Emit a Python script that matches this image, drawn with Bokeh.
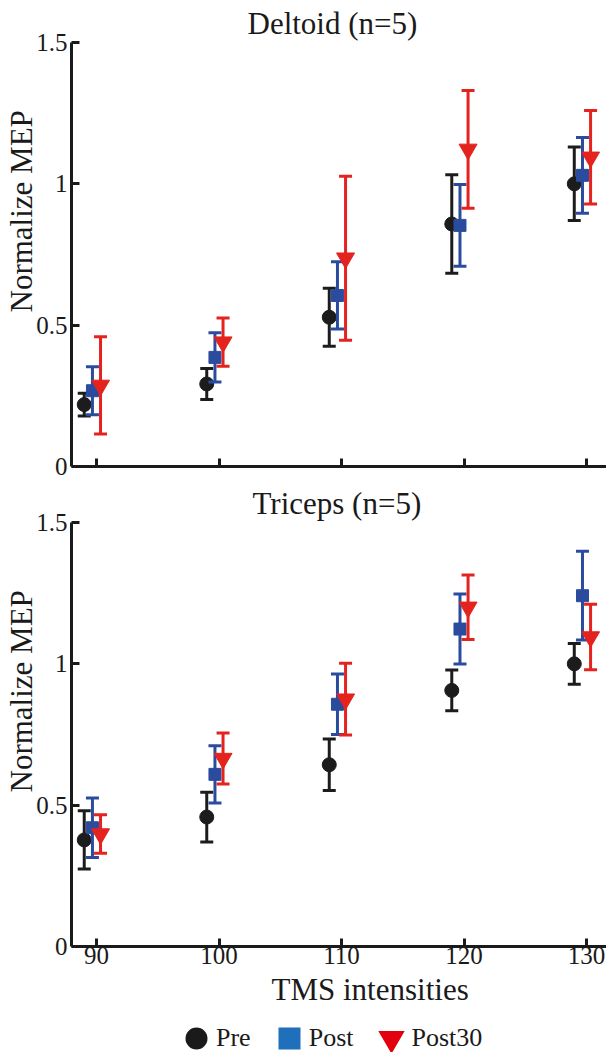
import numpy as np
from bokeh.plotting import figure
from bokeh.layouts import column
from bokeh.models import ColumnDataSource, Range1d, FixedTicker, Title, Legend, LegendItem
from bokeh.embed import file_html
from bokeh.resources import INLINE

# ---------------- data ----------------
intensities = [90, 100, 110, 120, 130]
x_ticks = [90, 100, 110, 120, 130]
x_tick_labels = ["90", "100", "110", "120", "130"]
y_ticks = [0, 0.5, 1, 1.5]
y_tick_labels = ["0", "0.5", "1", "1.5"]
conditions = ["Pre", "Post", "Post30"]

deltoid_pre = [0.219, 0.292, 0.528, 0.858, 1.000]
deltoid_pre_err = [0.040, 0.055, 0.103, 0.174, 0.130]
deltoid_post = [0.268, 0.386, 0.605, 0.853, 1.030]
deltoid_post_err = [0.085, 0.087, 0.119, 0.145, 0.134]
deltoid_post30 = [0.287, 0.440, 0.737, 1.122, 1.094]
deltoid_post30_err = [0.172, 0.085, 0.290, 0.208, 0.165]

triceps_pre = [0.377, 0.458, 0.643, 0.906, 1.000]
triceps_pre_err = [0.103, 0.088, 0.091, 0.072, 0.072]
triceps_post = [0.420, 0.609, 0.857, 1.123, 1.241]
triceps_post_err = [0.105, 0.101, 0.107, 0.124, 0.157]
triceps_post30 = [0.398, 0.665, 0.875, 1.200, 1.095]
triceps_post30_err = [0.068, 0.090, 0.127, 0.114, 0.116]

# ---------------- style ----------------
FONT = "Liberation Serif"
INK = "#1a1a1a"
plot_colors = {"Pre": "#1c1c1c", "Post": "#2b4c9e", "Post30": "#e4231e"}
legend_colors = {"Pre": "#1a1a1a", "Post": "#1f6fbb", "Post30": "#e2000f"}
markers = {"Pre": "circle", "Post": "square", "Post30": "inverted_triangle"}
marker_sizes = {"Pre": 14, "Post": 12, "Post30": 18}
dodge = {"Pre": -1.0, "Post": -0.33, "Post30": 0.33}

X0, X1 = 87.96, 131.63
Y0, Y1 = 0.0, 1.5


def make_panel(title, title_offset, series, height, bottom_border, show_x_labels):
    p = figure(width=606, height=height, x_range=Range1d(X0, X1), y_range=Range1d(Y0, Y1),
               output_backend="svg", toolbar_location=None,
               min_border_left=71, min_border_right=0,
               min_border_top=42, min_border_bottom=bottom_border)
    p.outline_line_color = None
    p.grid.visible = False
    p.background_fill_color = "white"
    p.border_fill_color = "white"

    for cond in conditions:
        m = np.array(series[cond][0])
        e = np.array(series[cond][1])
        x = np.array(intensities, dtype=float) + dodge[cond]
        src = ColumnDataSource(dict(x=x, y=m, lo=m - e, hi=m + e))
        c = plot_colors[cond]
        p.segment(x0="x", y0="lo", x1="x", y1="hi", source=src, line_color=c, line_width=3)
        p.scatter(x="x", y="lo", marker="dash", size=13, line_color=c, line_width=3, source=src)
        p.scatter(x="x", y="hi", marker="dash", size=13, line_color=c, line_width=3, source=src)
        p.scatter(x="x", y="y", marker=markers[cond], size=marker_sizes[cond],
                  fill_color=c, line_color=c, line_width=1, source=src)

    for ax in (p.xaxis[0], p.yaxis[0]):
        ax.axis_line_width = 3
        ax.axis_line_color = INK
        ax.major_tick_line_width = 3
        ax.major_tick_line_color = INK
        ax.major_tick_in = 8
        ax.major_tick_out = 0
        ax.minor_tick_line_color = None
        ax.major_label_text_font = FONT
        ax.major_label_text_font_size = "25px"
        ax.major_label_text_color = INK

    p.xaxis.ticker = FixedTicker(ticks=x_ticks)
    p.yaxis.ticker = FixedTicker(ticks=y_ticks)
    p.yaxis.major_label_overrides = dict(zip(y_ticks, y_tick_labels))
    p.yaxis.major_label_standoff = 4
    p.xaxis.major_label_standoff = 0
    if show_x_labels:
        p.xaxis.major_label_overrides = dict(zip(x_ticks, x_tick_labels))
    else:
        p.xaxis.major_label_overrides = dict(zip(x_ticks, [""] * len(x_ticks)))

    # panel title (above)
    p.title.text = title
    p.title.align = "left"
    p.title.offset = title_offset
    p.title.vertical_align = "bottom"
    p.title.standoff = 4
    p.title.text_font = FONT
    p.title.text_font_style = "normal"
    p.title.text_font_size = "31px"
    p.title.text_color = INK

    # y axis label (left side, shifted up as in the reference)
    p.add_layout(Title(text="Normalize MEP", align="left", offset=154, vertical_align="bottom",
                       standoff=-11, text_font=FONT, text_font_style="normal",
                       text_font_size="31px", text_color=INK), "left")
    return p


top = make_panel("Deltoid (n=5)", 176,
                 {"Pre": (deltoid_pre, deltoid_pre_err),
                  "Post": (deltoid_post, deltoid_post_err),
                  "Post30": (deltoid_post30, deltoid_post30_err)},
                 480, 14, False)

bottom = make_panel("Triceps (n=5)", 181,
                    {"Pre": (triceps_pre, triceps_pre_err),
                     "Post": (triceps_post, triceps_post_err),
                     "Post30": (triceps_post30, triceps_post30_err)},
                    542, 76, True)

bottom.add_layout(Title(text="TMS intensities", align="left", offset=200, vertical_align="top",
                        standoff=10, text_font=FONT, text_font_style="normal",
                        text_font_size="31px", text_color=INK), "below")

# ---------------- legend strip ----------------
leg_fig = figure(width=606, height=30, x_range=Range1d(0, 1), y_range=Range1d(0, 1),
                 output_backend="svg", toolbar_location=None,
                 x_axis_location=None, y_axis_location=None,
                 min_border_left=0, min_border_right=0, min_border_top=0, min_border_bottom=0)
leg_fig.outline_line_color = None
leg_fig.grid.visible = False
leg_fig.background_fill_color = "white"
leg_fig.border_fill_color = "white"

items = []
for cond in conditions:
    r = leg_fig.scatter(x=[np.nan], y=[np.nan], marker=markers[cond],
                        fill_color=legend_colors[cond], line_color=legend_colors[cond],
                        line_width=6, line_join="miter")
    items.append(LegendItem(label=cond, renderers=[r]))

legend = Legend(items=items, orientation="horizontal", location=(105, -6),
                glyph_width=40, glyph_height=40, label_standoff=0, spacing=18,
                padding=0, margin=0, border_line_color=None, background_fill_alpha=0,
                label_text_font=FONT, label_text_font_size="26px", label_text_color=INK)
leg_fig.add_layout(legend)

layout = column(top, bottom, leg_fig, spacing=0)
open("out.html", "w").write(file_html(layout, INLINE))
